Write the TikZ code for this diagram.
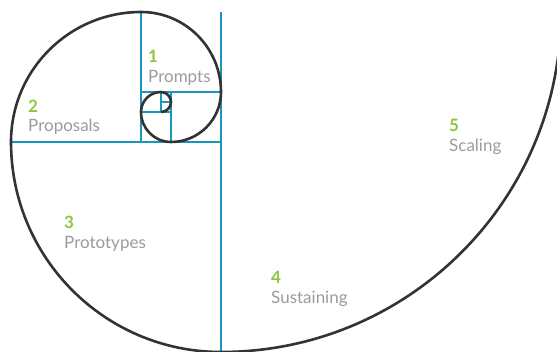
\documentclass[tikz,border=0pt]{standalone}
\usepackage{fontspec}
\setmainfont{Lato}
\usetikzlibrary{positioning}
\definecolor{spiralgray}{RGB}{51,51,51}
\definecolor{guideblue}{RGB}{27,149,188}
\definecolor{numgreen}{RGB}{140,198,63}
\definecolor{lblgray}{RGB}{155,155,155}
\tikzset{
  spiral/.style={draw=spiralgray, line width=2.6pt},
  guide/.style={draw=guideblue, line width=1.1pt},
  num/.style={text=numgreen, font=\fontsize{17}{20}\selectfont\bfseries, inner sep=0pt, anchor=base west},
  lbl/.style={text=lblgray, font=\fontsize{17}{20}\selectfont, inner sep=0pt},
}

\begin{document}
\begin{tikzpicture}[x=1pt, y=-1pt]
  \useasboundingbox (0,0) rectangle (557,352);
  \clip (0,0) rectangle (557,352);
  % square edges
  \draw[guide] (221,12) -- (221,352);
  \draw[guide] (11,142) -- (221,142);
  \draw[guide] (141,12) -- (141,142);
  \draw[guide] (141,92) -- (221,92);
  \draw[guide] (171,92) -- (171,142);
  \draw[guide] (141,112) -- (171,112);
  \draw[guide] (161,92) -- (161,112);
  \draw[guide] (161,102) -- (171,102);
  % spiral, outside in
  \draw[spiral] (561,12) arc[start angle=0, end angle=90, radius=340]
    arc[start angle=90, end angle=180, radius=210]
    arc[start angle=180, end angle=270, radius=130]
    arc[start angle=270, end angle=360, radius=80]
    arc[start angle=0, end angle=90, radius=50]
    arc[start angle=90, end angle=180, radius=30]
    arc[start angle=180, end angle=270, radius=20]
    arc[start angle=270, end angle=450, radius=10];
  % stages
  \node[num] (n1) at (148,63) {1};
  \node[lbl, below=20pt of n1.base west, anchor=base west] (t1) {Prompts};
  \node[num] (n2) at (28,113) {2};
  \node[lbl, below=19pt of n2.base west, anchor=base west] (t2) {Proposals};
  \node[num] (n3) at (64,229) {3};
  \node[lbl, below=20pt of n3.base west, anchor=base west] (t3) {Prototypes};
  \node[num] (n4) at (271,284) {4};
  \node[lbl, below=20pt of n4.base west, anchor=base west] (t4) {Sustaining};
  \node[num] (n5) at (449,132) {5};
  \node[lbl, below=20pt of n5.base west, anchor=base west] (t5) {Scaling};
\end{tikzpicture}
\end{document}
